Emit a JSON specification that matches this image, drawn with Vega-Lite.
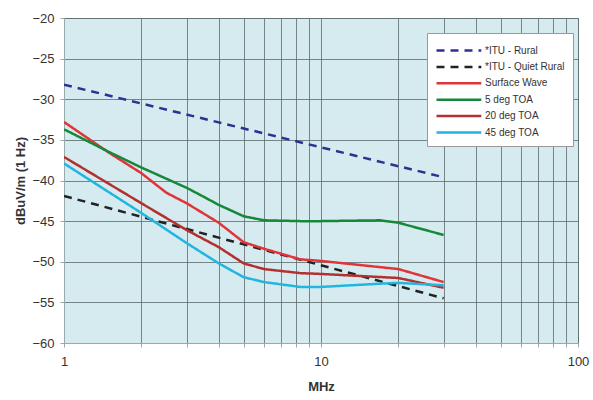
{
  "$schema": "https://vega.github.io/schema/vega-lite/v6.json",
  "width": 514,
  "height": 325,
  "autosize": "none",
  "padding": {"left": 64, "top": 18, "right": 15, "bottom": 57},
  "background": "white",
  "config": {
    "view": {"fill": "#d6ebef", "stroke": "#8a9a9a"},
    "font": "Liberation Sans"
  },
  "data": {
    "values": [
      {"s": "*ITU - Rural", "f": 1, "v": -28.2},
      {"s": "*ITU - Rural", "f": 30, "v": -39.6},
      {"s": "*ITU - Quiet Rural", "f": 1, "v": -41.9},
      {"s": "*ITU - Quiet Rural", "f": 30, "v": -54.5},
      {"s": "Surface Wave", "f": 1, "v": -32.8},
      {"s": "Surface Wave", "f": 1.5, "v": -36.6},
      {"s": "Surface Wave", "f": 2, "v": -39.1},
      {"s": "Surface Wave", "f": 2.5, "v": -41.5},
      {"s": "Surface Wave", "f": 3, "v": -42.8},
      {"s": "Surface Wave", "f": 4, "v": -45.2},
      {"s": "Surface Wave", "f": 5, "v": -47.6},
      {"s": "Surface Wave", "f": 6, "v": -48.4},
      {"s": "Surface Wave", "f": 8.3, "v": -49.7},
      {"s": "Surface Wave", "f": 10, "v": -49.9},
      {"s": "Surface Wave", "f": 20, "v": -50.9},
      {"s": "Surface Wave", "f": 30, "v": -52.5},
      {"s": "5 deg TOA", "f": 1, "v": -33.7},
      {"s": "5 deg TOA", "f": 1.5, "v": -36.5},
      {"s": "5 deg TOA", "f": 2, "v": -38.4},
      {"s": "5 deg TOA", "f": 3, "v": -40.9},
      {"s": "5 deg TOA", "f": 3.4, "v": -41.8},
      {"s": "5 deg TOA", "f": 4, "v": -43.0},
      {"s": "5 deg TOA", "f": 5, "v": -44.4},
      {"s": "5 deg TOA", "f": 6, "v": -44.9},
      {"s": "5 deg TOA", "f": 8.3, "v": -45.0},
      {"s": "5 deg TOA", "f": 10, "v": -45.0},
      {"s": "5 deg TOA", "f": 17, "v": -44.9},
      {"s": "5 deg TOA", "f": 20, "v": -45.2},
      {"s": "5 deg TOA", "f": 30, "v": -46.7},
      {"s": "20 deg TOA", "f": 1, "v": -37.1},
      {"s": "20 deg TOA", "f": 2, "v": -42.8},
      {"s": "20 deg TOA", "f": 3, "v": -46.1},
      {"s": "20 deg TOA", "f": 4, "v": -48.2},
      {"s": "20 deg TOA", "f": 5, "v": -50.2},
      {"s": "20 deg TOA", "f": 6, "v": -50.9},
      {"s": "20 deg TOA", "f": 8.3, "v": -51.4},
      {"s": "20 deg TOA", "f": 10, "v": -51.5},
      {"s": "20 deg TOA", "f": 20, "v": -52.0},
      {"s": "20 deg TOA", "f": 30, "v": -53.2},
      {"s": "45 deg TOA", "f": 1, "v": -37.9},
      {"s": "45 deg TOA", "f": 2, "v": -44.0},
      {"s": "45 deg TOA", "f": 3, "v": -47.7},
      {"s": "45 deg TOA", "f": 4, "v": -50.2},
      {"s": "45 deg TOA", "f": 5, "v": -51.9},
      {"s": "45 deg TOA", "f": 6, "v": -52.5},
      {"s": "45 deg TOA", "f": 8.3, "v": -53.1},
      {"s": "45 deg TOA", "f": 10, "v": -53.1},
      {"s": "45 deg TOA", "f": 17, "v": -52.7},
      {"s": "45 deg TOA", "f": 20, "v": -52.6},
      {"s": "45 deg TOA", "f": 30, "v": -52.9}
    ]
  },
  "mark": {"type": "line", "strokeWidth": 2.5, "clip": true},
  "encoding": {
    "x": {
      "field": "f", "type": "quantitative",
      "scale": {"type": "log", "domain": [1, 100], "nice": false},
      "axis": {
        "title": "MHz", "titleFontSize": 13, "titleFontWeight": "bold", "titleColor": "#333",
        "titlePadding": 12,
        "values": [1,2,3,4,5,6,7,8,9,10,20,30,40,50,60,70,80,90,100],
        "labelExpr": "datum.value == 1 || datum.value == 10 || datum.value == 100 ? datum.value : ''",
        "labelFontSize": 13, "labelColor": "#333", "labelPadding": 8,
        "gridColor": "#5a6a6c", "gridWidth": 0.8, "gridOpacity": 1,
        "domainColor": "#9aa", "tickColor": "#9aa", "tickSize": 4,
        "labelFlush": false
      }
    },
    "y": {
      "field": "v", "type": "quantitative",
      "scale": {"domain": [-60, -20], "nice": false},
      "axis": {
        "title": "dBuV/m (1 Hz)", "titleFontSize": 13, "titleFontWeight": "bold", "titleColor": "#333",
        "titlePadding": 4,
        "values": [-60,-55,-50,-45,-40,-35,-30,-25,-20],
        "labelFontSize": 13, "labelColor": "#333", "labelPadding": 6,
        "gridColor": "#5a6a6c", "gridWidth": 0.8, "gridOpacity": 1,
        "domainColor": "#9aa", "tickColor": "#9aa", "tickSize": 4
      }
    },
    "color": {
      "field": "s", "type": "nominal",
      "scale": {
        "domain": ["*ITU - Rural", "*ITU - Quiet Rural", "Surface Wave", "5 deg TOA", "20 deg TOA", "45 deg TOA"],
        "range": ["#2e3192", "#222222", "#e0343a", "#17873a", "#b3302e", "#22b5e0"]
      },
      "legend": {
        "title": null, "orient": "none", "legendX": 363, "legendY": 15,
        "symbolType": "M-1,0H4.6", "symbolSize": 256, "symbolStrokeWidth": 2.5,
        "labelFontSize": 10, "labelColor": "#333", "rowPadding": 1.4,
        "fillColor": "white", "strokeColor": "#999", "padding": 8,
        "labelOffset": 31
      }
    },
    "strokeDash": {
      "field": "s", "type": "nominal",
      "scale": {
        "domain": ["*ITU - Rural", "*ITU - Quiet Rural", "Surface Wave", "5 deg TOA", "20 deg TOA", "45 deg TOA"],
        "range": [[8, 6], [8, 6], [1, 0], [1, 0], [1, 0], [1, 0]]
      },
      "legend": {
        "title": null, "orient": "none", "legendX": 363, "legendY": 15,
        "symbolType": "M-1,0H4.6", "symbolSize": 256, "symbolStrokeWidth": 2.5,
        "labelFontSize": 10, "labelColor": "#333", "rowPadding": 1.4,
        "fillColor": "white", "strokeColor": "#999", "padding": 8,
        "labelOffset": 31
      }
    }
  }
}
